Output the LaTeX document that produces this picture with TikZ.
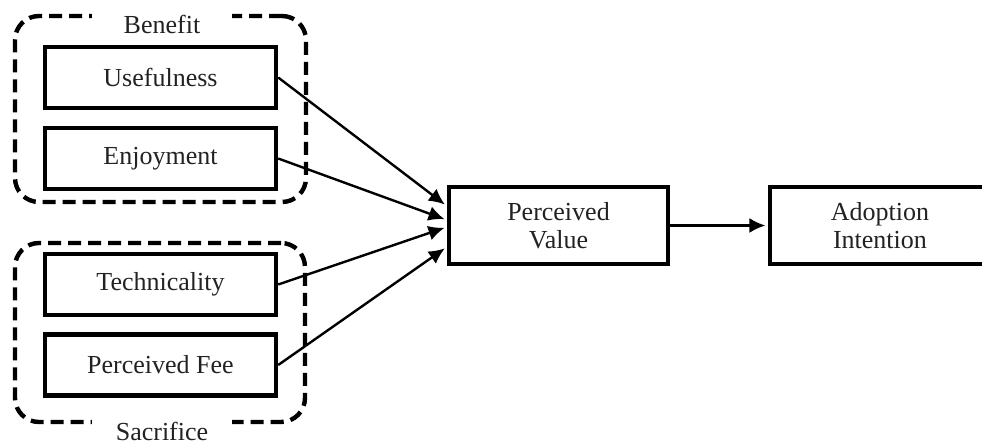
\documentclass[tikz,border=0pt]{standalone}
\usepackage{fontspec}
\setmainfont{Liberation Serif}
\usetikzlibrary{arrows.meta,calc}
\definecolor{textc}{HTML}{222222}
\begin{document}
\begin{tikzpicture}[x=0.5pt,y=-0.5pt,
  box/.style={draw=black,line width=2.2pt,inner sep=0pt,
    font=\fontsize{13}{14}\selectfont,text=textc,align=center},
  smallbox/.style={box,minimum width=115.5pt,minimum height=30.5pt},
  bigbox/.style={box,minimum width=109.5pt,minimum height=38.5pt},
  groupbox/.style={draw=black,line width=2.2pt,dash pattern=on 6.5pt off 3.5pt,
    rounded corners=12pt,inner sep=0pt},
  grouplabel/.style={fill=white,inner sep=1pt,minimum width=70pt,minimum height=18pt,
    font=\fontsize{13}{14}\selectfont,text=textc},
  conn/.style={draw=black,line width=1.2pt,shorten >=1.2pt,
    -{Latex[length=8pt,width=7.5pt]}}
]
\useasboundingbox (0,0) rectangle (982,443);
% group frames
\node[groupbox,minimum width=145.5pt,minimum height=93pt] (benefitbox) at (160.5,109) {};
\node[groupbox,minimum width=145pt,minimum height=89.5pt] (sacrificebox) at (160,332.5) {};
\node[grouplabel] (benefitlbl) at (162,24) {Benefit};
\node[grouplabel] (sacrificelbl) at (162,431) {Sacrifice};
% boxes
\node[smallbox] (use) at (160.5,77.5) {Usefulness};
\node[smallbox] (enj) at (160.5,158.5) {Enjoyment};
\node[smallbox] (tech) at (160.5,284.5) {Technicality};
\node[smallbox] (fee) at (160.5,365) {Perceived Fee};
\node[bigbox] (pv) at (558.5,225.5) {Perceived\\Value};
\node[bigbox,minimum width=110pt] (ai) at (880,225.5) {Adoption\\Intention};
% connectors
\draw[conn] (use.east) -- ($(pv.west)+(0,-19.5)$);
\draw[conn] (enj.east) -- ($(pv.west)+(0,-5.5)$);
\draw[conn] (tech.east) -- ($(pv.west)+(0,1.5)$);
\draw[conn] (fee.east) -- ($(pv.west)+(0,21.5)$);
\draw[conn] (pv.east) -- (ai.west);
\end{tikzpicture}
\end{document}
